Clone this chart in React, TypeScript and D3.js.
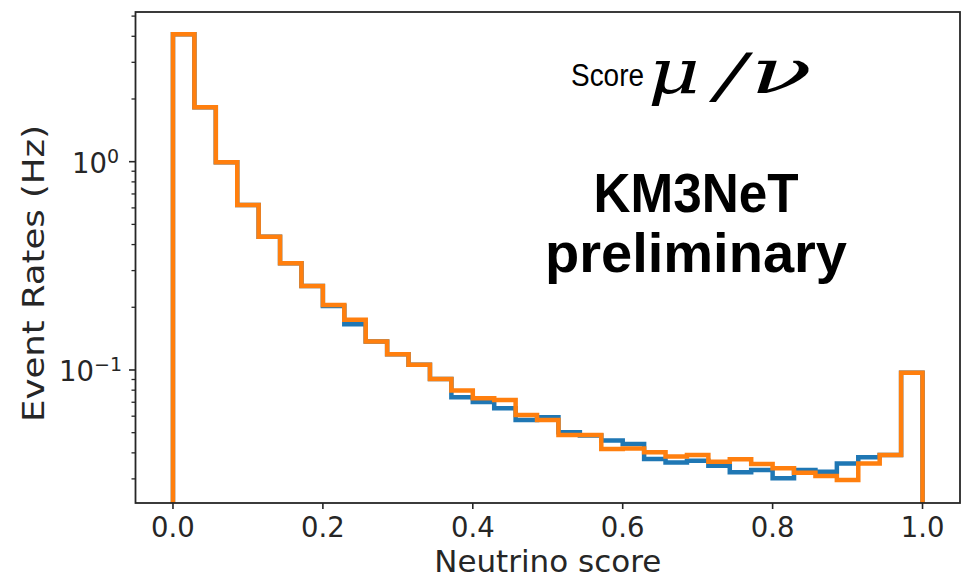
import React from "react";
import * as d3 from "d3";

const nBins = 35;
const binEdges = d3.range(nBins + 1).map((i) => i / nBins);

const orangeRates = [
  4.09, 1.825, 0.993, 0.62, 0.436, 0.325, 0.253, 0.205, 0.174, 0.137, 0.119,
  0.106, 0.0905, 0.0796, 0.0731, 0.0718, 0.0608, 0.0575, 0.0487, 0.0487,
  0.0418, 0.042, 0.0403, 0.0384, 0.0391, 0.0363, 0.0373, 0.0354, 0.0337,
  0.0321, 0.031, 0.0296, 0.0356, 0.0391, 0.097,
];
const blueRates = [
  4.09, 1.825, 0.993, 0.62, 0.436, 0.325, 0.253, 0.203, 0.166, 0.137, 0.119,
  0.106, 0.0905, 0.0739, 0.0702, 0.0655, 0.0575, 0.0593, 0.0502, 0.0484,
  0.0458, 0.0441, 0.0374, 0.036, 0.0367, 0.0347, 0.0323, 0.0331, 0.0302,
  0.0331, 0.0325, 0.0356, 0.0381, 0.0391, 0.097,
];

const xTicks = [0, 0.2, 0.4, 0.6, 0.8, 1.0];
const yMajorExps = [0, -1];
const yMinorValues = [
  0.03, 0.04, 0.05, 0.06, 0.07, 0.08, 0.09,
  0.2, 0.3, 0.4, 0.5, 0.6, 0.7, 0.8, 0.9,
  2, 3, 4, 5,
];

const W = 971;
const H = 585;
const L = 135.5, R = 960, T = 12, B = 503;
const xDomain = [-0.05, 1.05];
const yDomain = [0.02298, 5.232];

export default function App() {
  const x = d3.scaleLinear().domain(xDomain).range([L, R]);
  const y = d3.scaleLog().domain(yDomain).range([B, T]);

  const stepPath = (vals: number[]) => {
    const pts: [number, number][] = [];
    pts.push([x(binEdges[0]), B + 10]);
    vals.forEach((v, i) => pts.push([x(binEdges[i]), y(v)]));
    pts.push([x(binEdges[nBins]), y(vals[nBins - 1])]);
    pts.push([x(binEdges[nBins]), B + 10]);
    return d3.line().curve(d3.curveStepAfter)(pts) || "";
  };

  const axisColor = "#262626";
  const tickFont = "DejaVu Sans";
  const mathFont = "DejaVu Serif";

  return (
    <svg
      width={W}
      height={H}
      style={{ position: "absolute", left: 0, top: 0, background: "#fff" }}
    >
      <defs>
        <clipPath id="plotclip">
          <rect x={L} y={T} width={R - L} height={B - T} />
        </clipPath>
      </defs>
      <rect x={0} y={0} width={W} height={H} fill="#fff" />

      <g clipPath="url(#plotclip)">
        <path d={stepPath(blueRates)} fill="none" stroke="#1f77b4" strokeWidth={4.5} strokeLinejoin="miter" />
        <path d={stepPath(orangeRates)} fill="none" stroke="#ff7f0e" strokeWidth={4.5} strokeLinejoin="miter" />
      </g>

      {/* spines */}
      <rect x={L} y={T} width={R - L} height={B - T} fill="none" stroke={axisColor} strokeWidth={1.8} />

      {/* x ticks */}
      {xTicks.map((t) => (
        <g key={"xt" + t}>
          <line x1={x(t)} x2={x(t)} y1={B} y2={B + 6} stroke={axisColor} strokeWidth={1.6} />
          <text
            x={x(t)}
            y={537}
            textAnchor="middle"
            fontFamily={tickFont}
            fontSize={27.5}
            fill={axisColor}
          >
            {t.toFixed(1)}
          </text>
        </g>
      ))}

      {/* y minor ticks */}
      {yMinorValues.map((v) => (
        <line key={"ym" + v} x1={L - 4} x2={L} y1={y(v)} y2={y(v)} stroke={axisColor} strokeWidth={1.3} />
      ))}
      {/* y major ticks */}
      {yMajorExps.map((e) => (
        <g key={"yM" + e}>
          <line x1={L - 6.5} x2={L} y1={y(Math.pow(10, e))} y2={y(Math.pow(10, e))} stroke={axisColor} strokeWidth={1.6} />
          <text
            x={e < 0 ? 122 : 119}
            y={y(Math.pow(10, e)) + 11.5}
            textAnchor="end"
            fontFamily={tickFont}
            fontSize={27.5}
            fill={axisColor}
          >
            <tspan>10</tspan>
            <tspan dy={-10} fontSize={19}>
              {e < 0 ? "\u2212" + Math.abs(e) : String(e)}
            </tspan>
          </text>
        </g>
      ))}

      {/* axis labels */}
      <text
        x={(L + R) / 2}
        y={571.5}
        textAnchor="middle"
        fontFamily={tickFont}
        fontSize={30}
        fill={axisColor}
        textLength={227}
        lengthAdjust="spacingAndGlyphs"
      >
        Neutrino score
      </text>
      <text
        transform={`translate(43.5, 273.5) rotate(-90)`}
        x={0}
        y={0}
        textAnchor="middle"
        fontFamily={tickFont}
        fontSize={31}
        fill={axisColor}
        textLength={297}
        lengthAdjust="spacingAndGlyphs"
      >
        Event Rates (Hz)
      </text>

      {/* annotations */}
      <text x={571} y={86} fontFamily="Liberation Sans" fontSize={31} fill="#000" textLength={73} lengthAdjust="spacingAndGlyphs">
        Score
      </text>
      <text x={648} y={93} fontFamily={mathFont} fontStyle="italic" fontSize={62} fill="#000" textLength={52} lengthAdjust="spacingAndGlyphs">
        μ
      </text>
      <text x={716} y={96} fontFamily={mathFont} fontStyle="italic" fontSize={60} fill="#000" textLength={30} lengthAdjust="spacingAndGlyphs">
        /
      </text>
      <text x={750} y={93} fontFamily={mathFont} fontStyle="italic" fontSize={62} fill="#000" textLength={62} lengthAdjust="spacingAndGlyphs">
        ν
      </text>
      <text x={696} y={212} textAnchor="middle" fontFamily="Liberation Sans" fontWeight="bold" fontSize={55} fill="#000" textLength={205} lengthAdjust="spacingAndGlyphs">
        KM3NeT
      </text>
      <text x={696} y={272} textAnchor="middle" fontFamily="Liberation Sans" fontWeight="bold" fontSize={55} fill="#000" textLength={302} lengthAdjust="spacingAndGlyphs">
        preliminary
      </text>
    </svg>
  );
}
